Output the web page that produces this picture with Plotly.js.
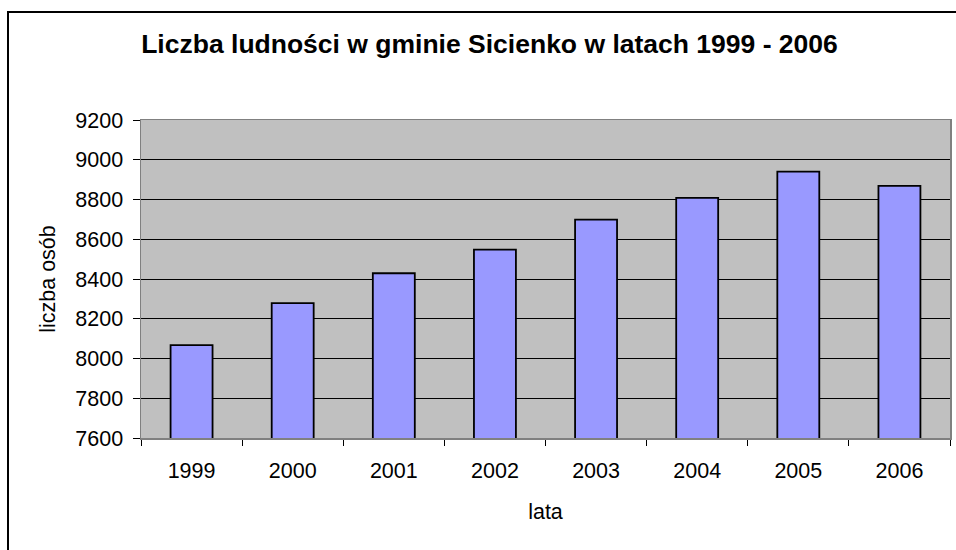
<!DOCTYPE html>
<html>
<head>
<meta charset="utf-8">
<script src="https://cdn.plot.ly/plotly-3.0.1.min.js"></script>
<style>
  html, body { margin: 0; padding: 0; background: #fff; }
  #wrap { position: relative; width: 956px; height: 550px; overflow: hidden; }
  #chart { position: absolute; left: 0; top: 0; width: 956px; height: 550px; }
  #frame { position: absolute; left: 7px; top: 11px; width: 960px; height: 560px;
           border-left: 2px solid #000; border-top: 2px solid #000; pointer-events: none; }
</style>
</head>
<body>
<div id="wrap">
  <div id="chart"></div>
  <div id="frame"></div>
</div>
<script>
const years = ['1999', '2000', '2001', '2002', '2003', '2004', '2005', '2006'];
const population = [8067, 8279, 8429, 8548, 8699, 8808, 8940, 8869];
const chartTitle = 'Liczba ludności w gminie Sicienko w latach 1999 - 2006';
const xTitle = 'lata';
const yTitle = 'liczba osób';

const FONT = 'Liberation Sans, Arial, sans-serif';
const FS = 21.5;

Plotly.newPlot('chart', [{
  type: 'bar',
  x: years,
  y: population,
  marker: { color: '#9999FF', line: { color: '#000000', width: 1.8 } },
  hoverinfo: 'x+y'
}], {
  width: 956,
  height: 550,
  margin: { l: 141, r: 6, t: 120, b: 112, pad: 0 },
  paper_bgcolor: 'rgba(0,0,0,0)',
  plot_bgcolor: '#C0C0C0',
  bargap: 0.585,
  showlegend: false,
  font: { family: FONT, size: FS, color: '#000' },
  title: {
    text: '<b>' + chartTitle + '</b>',
    font: { family: FONT, size: 26.5, color: '#000' },
    xref: 'container', x: 489.5 / 956, xanchor: 'center',
    yref: 'container', y: 1 - 44 / 550, yanchor: 'middle'
  },
  xaxis: {
    type: 'category',
    title: { text: xTitle, font: { family: FONT, size: FS }, standoff: 21 },
    ticks: 'outside', tickson: 'boundaries', ticklen: 6, tickcolor: '#000', tickwidth: 1,
    ticklabelstandoff: 13,
    showline: true, linecolor: '#808080', linewidth: 1.5, mirror: true,
    showgrid: false, zeroline: false,
    tickfont: { family: FONT, size: FS },
    automargin: false
  },
  yaxis: {
    range: [7600, 9200],
    dtick: 200, tick0: 7600,
    title: { text: yTitle, font: { family: FONT, size: FS }, standoff: 14 },
    ticks: 'outside', ticklen: 7, tickcolor: '#000', tickwidth: 1,
    ticklabelstandoff: 5,
    showline: true, linecolor: '#808080', linewidth: 1.5, mirror: true,
    showgrid: true, gridcolor: '#000000', gridwidth: 1,
    zeroline: false,
    tickfont: { family: FONT, size: FS },
    automargin: false
  }
}, { displayModeBar: false, staticPlot: true });
</script>
</body>
</html>
